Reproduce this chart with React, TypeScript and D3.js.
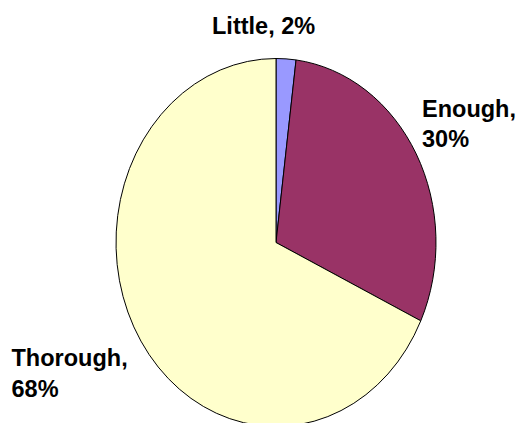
import React from "react";
import * as d3 from "d3";

const categories = ["Little", "Enough", "Thorough"];
const values = [2, 30, 68];
const colors = ["#9999FF", "#993366", "#FFFFCC"];

const W = 521;
const H = 423;
const cx = 276;
const cy = 242.5;
const rx = 160;
const ry = 184;

export default function App() {
  const pie = d3.pie<number>().sort(null).value((d) => d)(values);
  const arc = d3.arc<d3.PieArcDatum<number>>().innerRadius(0).outerRadius(ry);
  const font = "'Liberation Sans', Arial, sans-serif";
  const fs = 23.5;
  const labels = [
    { lines: [`${categories[0]}, ${values[0]}%`], x: 212, y: 34, lh: 30 },
    { lines: [`${categories[1]},`, `${values[1]}%`], x: 422, y: 117, lh: 30 },
    { lines: [`${categories[2]},`, `${values[2]}%`], x: 11.5, y: 366, lh: 31 },
  ];
  return (
    <svg
      width={W}
      height={H}
      style={{ position: "absolute", left: 0, top: 0, background: "#fff" }}
    >
      <g transform={`translate(${cx},${cy}) scale(${rx / ry},1)`}>
        {pie.map((p, i) => (
          <path
            key={i}
            d={arc(p) || ""}
            fill={colors[i]}
            stroke="#000"
            strokeWidth={1}
            vectorEffect="non-scaling-stroke"
          />
        ))}
      </g>
      {labels.map((l, i) => (
        <text
          key={i}
          x={l.x}
          y={l.y}
          fontFamily={font}
          fontWeight="bold"
          fontSize={fs}
          fill="#000"
        >
          {l.lines.map((t, j) => (
            <tspan key={j} x={l.x} dy={j === 0 ? 0 : l.lh}>
              {t}
            </tspan>
          ))}
        </text>
      ))}
    </svg>
  );
}
